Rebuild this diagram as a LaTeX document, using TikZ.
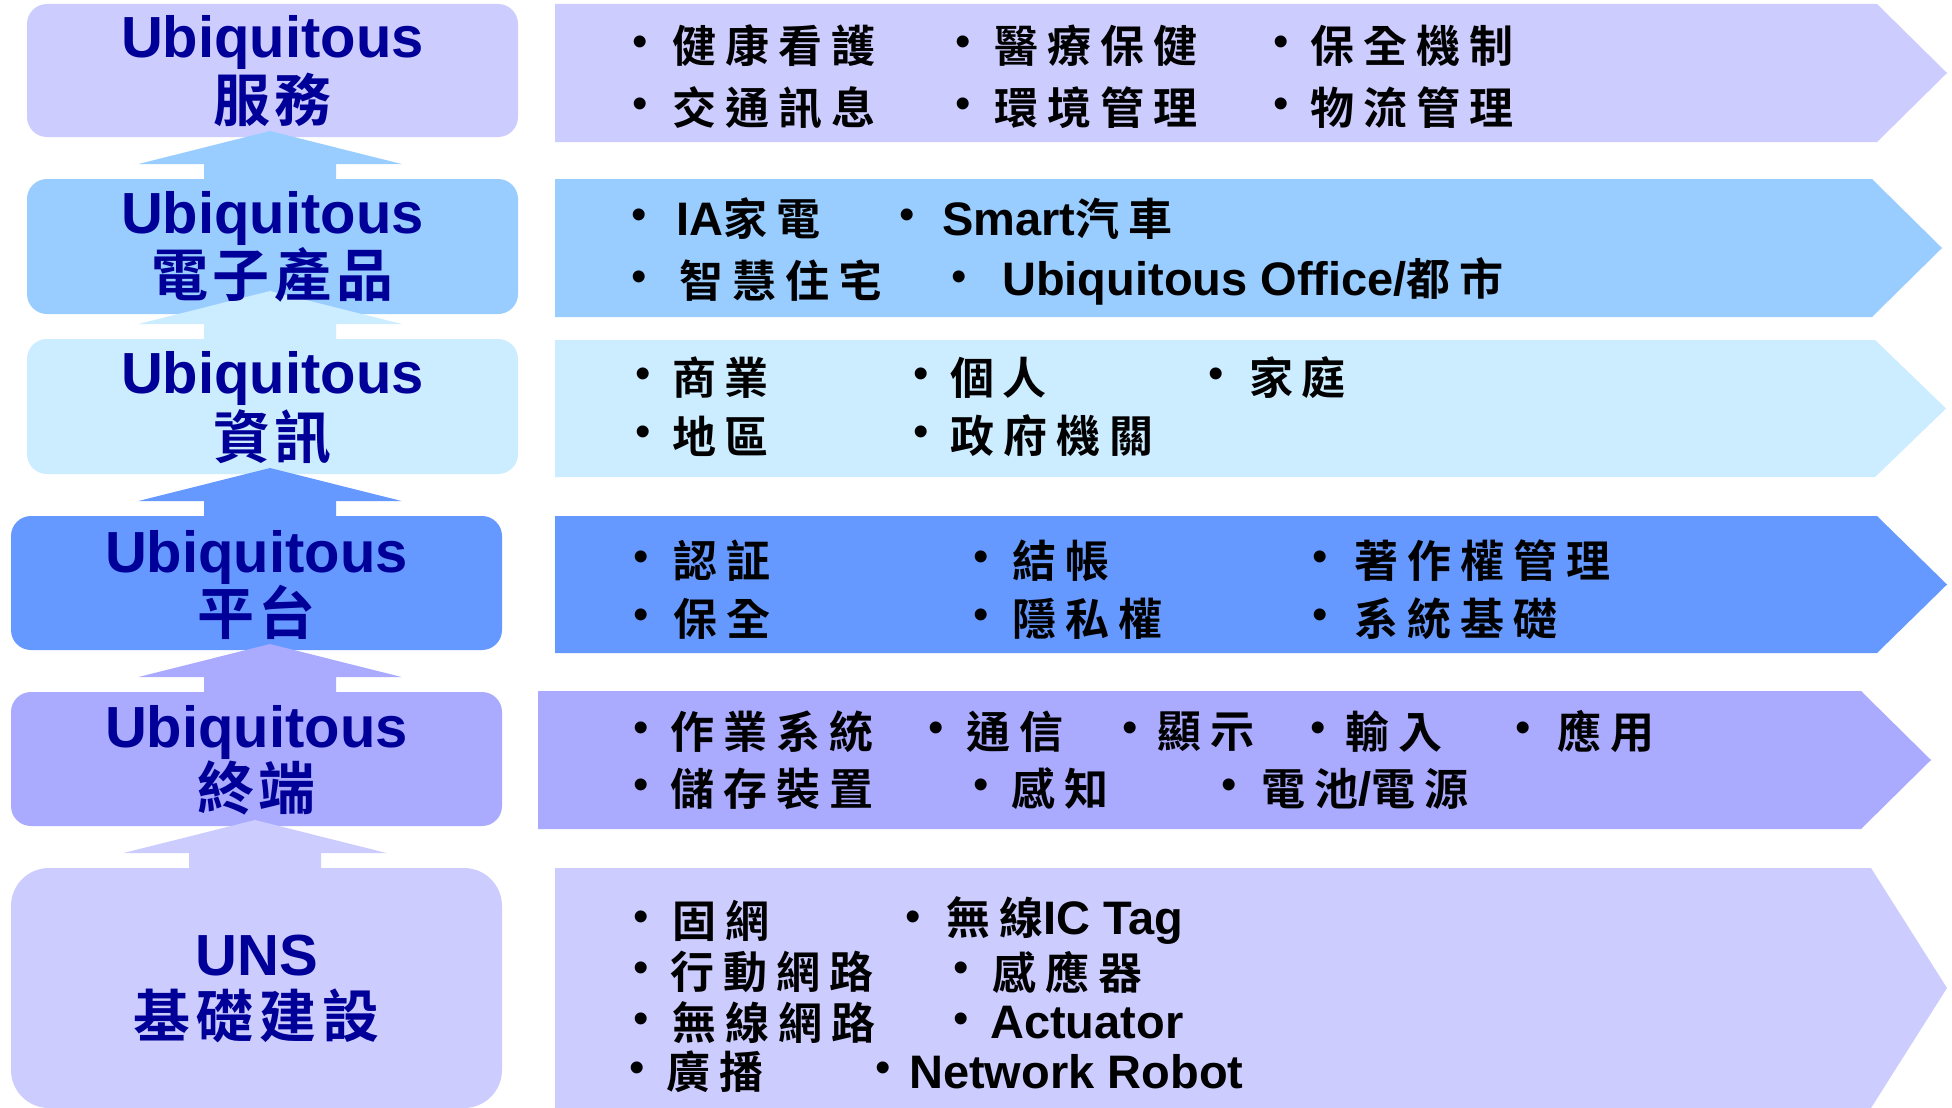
\documentclass[tikz,border=0pt]{standalone}
\usepackage{fontspec}
\setmainfont{Liberation Sans}
\newfontface\cjkbf{Noto Sans CJK TC Bold}
\newfontface\latbf{Liberation Sans Bold}
\newfontface\latrg{Liberation Sans}
\usetikzlibrary{calc}
\definecolor{cA}{HTML}{CCCCFF}
\definecolor{cB}{HTML}{99CCFF}
\definecolor{cC}{HTML}{CCECFF}
\definecolor{cD}{HTML}{6699FF}
\definecolor{cE}{HTML}{AAAAFF}
\definecolor{navy}{HTML}{000099}
\makeatletter
\newcommand\lsp[2]{\@tfor\lsptok:=#2\do{\lsptok\kern#1}\unkern}
\makeatother
\newcommand\latb{\latbf\fontsize{47pt}{47pt}\selectfont}
\newcommand\itm[5]{\node[bul] (#1b) at (#2,#4) {•}; \node[itx] (#1) at (#3,#4) {#5};}
\newcommand\rowshape[6]{\fill[#1] (#2,#3) -- (#5,#3) -- (#6,{(#3+#4)/2}) -- (#5,#4) -- (#2,#4) -- cycle;}
\newcommand\UpArr[3]{\fill[#1] ($(#2.north -| #3)+(-66,4)$) -- ++(0,-19) -- ++(-65.5,0) -- ++(131.5,-33) -- ++(131.5,33) -- ++(-65.5,0) -- ++(0,19) -- cycle;}
\begin{document}
\begin{tikzpicture}[x=1pt, y=-1pt,
  lbox/.style={rounded corners=20pt, minimum width=491pt, inner sep=0pt, outer sep=0pt},
  ubi/.style={anchor=base, inner sep=0pt, text=navy, font=\latbf\fontsize{58pt}{58pt}\selectfont},
  kl/.style={inner sep=0pt, text=navy, font=\cjkbf\fontsize{57pt}{57pt}\selectfont},
  itx/.style={anchor=west, inner sep=0pt, text=black, font=\cjkbf\fontsize{44pt}{44pt}\selectfont},
  bul/.style={inner sep=0pt, text=black, font=\latrg\fontsize{44pt}{44pt}\selectfont}]
\useasboundingbox (0,0) rectangle (1952,1108);
\fill[white] (0,0) rectangle (1952,1108);
% left boxes
\node[lbox, fill=cA, minimum height=133pt] (b1) at (272.5,70.5) {};
\node[lbox, fill=cB, minimum height=135pt] (b2) at (272.5,246.5) {};
\node[lbox, fill=cC, minimum height=135pt] (b3) at (272.5,406.5) {};
\node[lbox, fill=cD, minimum height=134pt] (b4) at (256.5,583) {};
\node[lbox, fill=cE, minimum height=134pt] (b5) at (256.5,759) {};
\node[lbox, fill=cA, minimum height=240pt, rounded corners=38pt] (b6) at (256.5,988) {};
% right rows
\rowshape{cA}{555}{4}{142}{1877}{1947}
\rowshape{cB}{555}{179}{317}{1872}{1942}
\rowshape{cC}{555}{340}{477}{1875}{1946}
\rowshape{cD}{555}{516}{653}{1877}{1947}
\rowshape{cE}{538}{691}{829}{1861}{1931}
\rowshape{cA}{555}{868}{1108}{1871}{1947}
% up arrows
\coordinate (ax1) at (270,0);
\coordinate (ax2) at (255,0);
\UpArr{cB}{b2}{ax1}
\UpArr{cC}{b3}{ax1}
\UpArr{cD}{b4}{ax1}
\UpArr{cE}{b5}{ax1}
\UpArr{cA}{b6}{ax2}
% left labels
\node[ubi] (u1) at (272.5,58) {Ubiquitous};
\node[kl] (k1) at (272.5,100) {\lsp{5pt}{服務}};
\node[ubi] (u2) at (272.5,233) {Ubiquitous};
\node[kl] (k2) at (272.5,275) {\lsp{5pt}{電子產品}};
\node[ubi] (u3) at (272.5,393) {Ubiquitous};
\node[kl] (k3) at (272.5,437) {\lsp{5pt}{資訊}};
\node[ubi] (u4) at (256.5,572) {Ubiquitous};
\node[kl] (k4) at (256.5,612) {\lsp{5pt}{平台}};
\node[ubi] (u5) at (256.5,747) {Ubiquitous};
\node[kl] (k5) at (256.5,788) {\lsp{5pt}{終端}};
\node[ubi] (u6) at (256.5,975) {UNS};
\node[kl] (k6) at (256.5,1016) {\lsp{6pt}{基礎建設}};
% row 1
\itm{r1a}{640}{672}{46}{\lsp{9pt}{健康看護}}
\itm{r1b}{963}{994}{46}{\lsp{9pt}{醫療保健}}
\itm{r1c}{1281}{1310}{46}{\lsp{9pt}{保全機制}}
\itm{r1d}{640}{672}{108}{\lsp{9pt}{交通訊息}}
\itm{r1e}{963}{994}{108}{\lsp{9pt}{環境管理}}
\itm{r1f}{1281}{1310}{108}{\lsp{9pt}{物流管理}}
% row 2
\itm{r2a}{639}{676}{219}{{\latb IA}\lsp{9pt}{家電}}
\itm{r2b}{907}{942}{219}{{\latb Smart}\lsp{9pt}{汽車}}
\itm{r2c}{639}{679}{281}{\lsp{9pt}{智慧住宅}}
\itm{r2d}{959}{1002}{281}{{\latb Ubiquitous Office/}\lsp{9pt}{都市}}
% row 3
\itm{r3a}{643}{672}{378}{\lsp{8pt}{商業}}
\itm{r3b}{921}{950}{378}{\lsp{8pt}{個人}}
\itm{r3c}{1216}{1249}{378}{\lsp{8pt}{家庭}}
\itm{r3d}{643}{672}{436}{\lsp{8pt}{地區}}
\itm{r3e}{921}{950}{436}{\lsp{9pt}{政府機關}}
% row 4
\itm{r4a}{641}{673}{561}{\lsp{9pt}{認証}}
\itm{r4b}{981}{1012}{561}{\lsp{9pt}{結帳}}
\itm{r4c}{1320}{1354}{561}{\lsp{9pt}{著作權管理}}
\itm{r4d}{641}{673}{619}{\lsp{9pt}{保全}}
\itm{r4e}{981}{1012}{619}{\lsp{9pt}{隱私權}}
\itm{r4f}{1320}{1354}{619}{\lsp{9pt}{系統基礎}}
% row 5
\itm{r5a}{641}{670}{732}{\lsp{9pt}{作業系統}}
\itm{r5b}{936}{966}{732}{\lsp{9pt}{通信}}
\itm{r5c}{1130}{1157}{732}{\lsp{9pt}{顯示}}
\itm{r5d}{1318}{1345}{732}{\lsp{9pt}{輸入}}
\itm{r5e}{1523}{1557}{732}{\lsp{9pt}{應用}}
\itm{r5f}{641}{670}{789}{\lsp{9pt}{儲存裝置}}
\itm{r5g}{981}{1011}{789}{\lsp{9pt}{感知}}
\itm{r5h}{1229}{1261}{789}{\lsp{9pt}{電池}{\latb /}\lsp{9pt}{電源}}
% row 6
\itm{r6a}{641}{672}{921}{\lsp{9pt}{固網}}
\itm{r6b}{913}{946}{921}{\lsp{9pt}{無線}{\latb IC Tag}}
\itm{r6c}{641}{670}{972}{\lsp{9pt}{行動網路}}
\itm{r6d}{961}{992}{972}{\lsp{9pt}{感應器}}
\itm{r6e}{641}{672}{1023}{\lsp{9pt}{無線網路}}
\itm{r6f}{961}{990}{1023}{{\latb Actuator}}
\itm{r6g}{637}{666}{1072}{\lsp{9pt}{廣播}}
\itm{r6h}{883}{909}{1072}{{\latb Network Robot}}
\end{tikzpicture}
\end{document}
